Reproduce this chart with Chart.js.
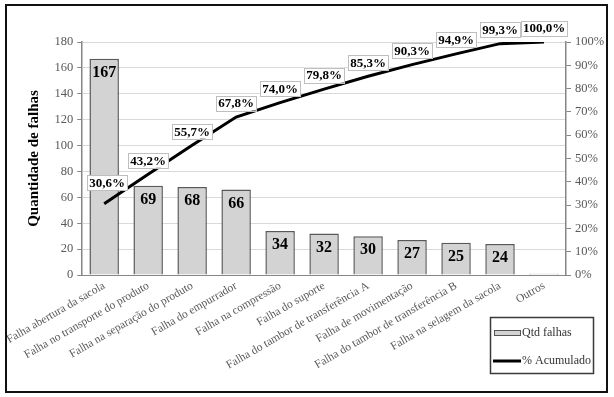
<!DOCTYPE html>
<html>
<head>
<meta charset="utf-8">
<script src="https://cdn.jsdelivr.net/npm/chart.js@4.4.0/dist/chart.umd.min.js"></script>
<style>
  html, body { margin: 0; padding: 0; background: #fff; }
  #wrap { position: relative; width: 614px; height: 397px; }
  #frame { position: absolute; left: 5px; top: 4px; width: 599px; height: 385px; border: 2px solid #111; pointer-events: none; }
</style>
</head>
<body>
<div id="wrap">
  <canvas id="pareto" width="614" height="397"></canvas>
  <div id="frame"></div>
</div>
<script>
// dados do gráfico de Pareto
const categorias = [
    'Falha abertura da sacola',
    'Falha no transporte do produto',
    'Falha na separação do produto',
    'Falha do empurrador',
    'Falha na compressão',
    'Falha do suporte',
    'Falha do tambor de transferência A',
    'Falha de movimentação',
    'Falha do tambor de transferência B',
    'Falha na selagem da sacola',
    'Outros'
];
const qtdFalhas = [167, 69, 68, 66, 34, 32, 30, 27, 25, 24, 1];
const acumulado = [30.6, 43.2, 55.7, 67.8, 74.0, 79.8, 85.3, 90.3, 94.9, 99.3, 100.0];
const ticksEsquerda = [0, 20, 40, 60, 80, 100, 120, 140, 160, 180];
const ticksDireita = [0, 10, 20, 30, 40, 50, 60, 70, 80, 90, 100];

const FONTE = '"Liberation Serif", "Times New Roman", serif';
const CINZA_TEXTO = '#595959';

function fmtPct(v) {
    return v.toFixed(1).replace('.', ',') + '%';
}

// rótulos de dados (barras e linha)
const rotulosPlugin = {
    id: 'rotulos',
    afterDatasetsDraw(chart) {
        const ctx = chart.ctx;
        ctx.save();
        ctx.textAlign = 'center';
        ctx.textBaseline = 'middle';

        // valores das barras
        ctx.font = 'bold 16px ' + FONTE;
        ctx.fillStyle = '#000';
        chart.getDatasetMeta(0).data.forEach((bar, i) => {
            if (categorias[i] === 'Outros') return;
            ctx.fillText(String(qtdFalhas[i]), bar.x, bar.y + 14);
        });

        // % acumulado
        ctx.font = 'bold 13px ' + FONTE;
        chart.getDatasetMeta(1).data.forEach((pt, i) => {
            const txt = fmtPct(acumulado[i]);
            const w = ctx.measureText(txt).width + 4;
            const h = 15;
            const cx = pt.x + (i === 0 ? 3 : 0);
            const cy = pt.y - (i === 0 ? 21 : 14);
            ctx.fillStyle = '#fff';
            ctx.fillRect(cx - w / 2, cy - h / 2, w, h);
            ctx.strokeStyle = '#bfbfbf';
            ctx.lineWidth = 1;
            ctx.strokeRect(Math.round(cx - w / 2) + 0.5, Math.round(cy - h / 2) + 0.5, Math.round(w), h);
            ctx.fillStyle = '#000';
            ctx.fillText(txt, cx, cy + 1);
        });
        ctx.restore();
    }
};

// legenda desenhada no canto inferior direito
const legendaPlugin = {
    id: 'legendaPareto',
    afterDraw(chart) {
        const ctx = chart.ctx;
        ctx.save();
        ctx.strokeStyle = '#3a3a3a';
        ctx.lineWidth = 1.5;
        ctx.strokeRect(490.5, 317.5, 103, 56);

        ctx.fillStyle = '#d3d3d3';
        ctx.fillRect(494, 330, 26, 6);
        ctx.strokeStyle = '#555';
        ctx.lineWidth = 1;
        ctx.strokeRect(494.5, 330.5, 26, 5);

        ctx.strokeStyle = '#000';
        ctx.lineWidth = 3;
        ctx.beginPath();
        ctx.moveTo(493, 361);
        ctx.lineTo(521, 361);
        ctx.stroke();

        ctx.fillStyle = '#333';
        ctx.font = '12px ' + FONTE;
        ctx.textAlign = 'left';
        ctx.textBaseline = 'middle';
        ctx.fillText('Qtd falhas', 522, 333);
        ctx.fillText('% Acumulado', 522, 361);
        ctx.restore();
    }
};

const ctx = document.getElementById('pareto').getContext('2d');
new Chart(ctx, {
    data: {
        labels: categorias,
        datasets: [
            {
                type: 'bar',
                label: 'Qtd falhas',
                data: qtdFalhas,
                yAxisID: 'y',
                backgroundColor: '#d3d3d3',
                borderColor: '#595959',
                borderWidth: 1.5,
                barPercentage: 0.67,
                categoryPercentage: 1,
                order: 2
            },
            {
                type: 'line',
                label: '% Acumulado',
                data: acumulado,
                yAxisID: 'y1',
                borderColor: '#000',
                borderWidth: 3,
                pointRadius: 0,
                tension: 0,
                order: 1
            }
        ]
    },
    options: {
        responsive: false,
        animation: false,
        layout: { padding: { top: 42, right: 0, left: 0, bottom: 0 } },
        plugins: {
            legend: { display: false },
            tooltip: { enabled: false }
        },
        scales: {
            x: {
                grid: { display: false, drawTicks: false },
                border: { color: '#868686', width: 1 },
                ticks: {
                    color: CINZA_TEXTO,
                    font: { family: FONTE, size: 11.5 },
                    maxRotation: 30,
                    minRotation: 30,
                    autoSkip: false,
                    padding: 4
                },
                afterFit(scale) { scale.height = 122; }
            },
            y: {
                position: 'left',
                min: 0,
                max: 180,
                afterBuildTicks(scale) {
                    scale.ticks = ticksEsquerda.map(v => ({ value: v }));
                },
                grid: { color: '#d9d9d9', tickColor: '#868686', tickLength: 5 },
                border: { color: '#868686', width: 1.5 },
                ticks: {
                    color: CINZA_TEXTO,
                    font: { family: FONTE, size: 12.5 },
                    padding: 4
                },
                title: {
                    display: true,
                    text: 'Quantidade de falhas',
                    color: '#000',
                    font: { family: FONTE, size: 15, weight: 'bold' },
                    padding: { top: 24, bottom: 0 }
                },
                afterFit(scale) { scale.width = 81; }
            },
            y1: {
                position: 'right',
                min: 0,
                max: 100,
                afterBuildTicks(scale) {
                    scale.ticks = ticksDireita.map(v => ({ value: v }));
                },
                grid: { drawOnChartArea: false, tickColor: '#868686', tickLength: 5 },
                border: { color: '#868686', width: 1.5 },
                ticks: {
                    color: CINZA_TEXTO,
                    font: { family: FONTE, size: 12.5 },
                    padding: 4,
                    callback: v => v + '%'
                },
                afterFit(scale) { scale.width = 48; }
            }
        }
    },
    plugins: [rotulosPlugin, legendaPlugin]
});
</script>
</body>
</html>
